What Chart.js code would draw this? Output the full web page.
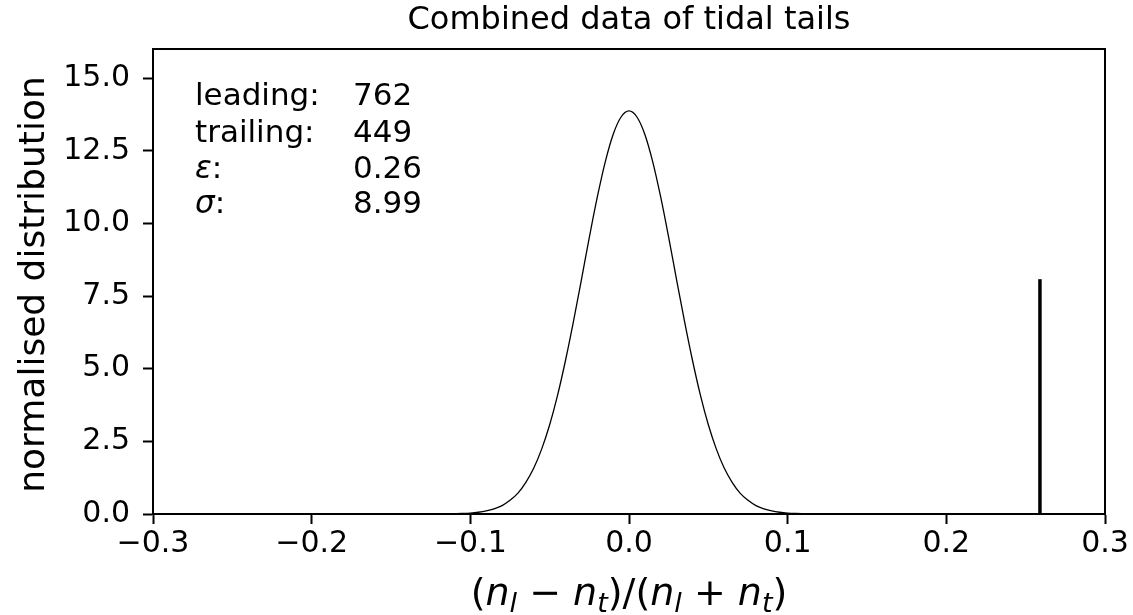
<!DOCTYPE html>
<html>
<head>
<meta charset="utf-8">
<script src="https://cdn.jsdelivr.net/npm/chart.js@4"></script>
<style>
html,body{margin:0;padding:0;background:#fff;}
canvas{display:block;}
</style>
</head>
<body>
<canvas id="c" width="1133" height="615"></canvas>
<script>
// ---- data ----
const curveX = [-0.3, -0.12, -0.115, -0.11, -0.105, -0.1, -0.095, -0.09, -0.085, -0.08, -0.075, -0.07, -0.065, -0.06, -0.055, -0.05, -0.045, -0.04, -0.035, -0.03, -0.025, -0.02, -0.015, -0.01, -0.005,
  0, 0.005, 0.01, 0.015, 0.02, 0.025, 0.03, 0.035, 0.04, 0.045, 0.05, 0.055, 0.06, 0.065, 0.07, 0.075, 0.08, 0.085, 0.09, 0.095, 0.1, 0.105, 0.11, 0.115, 0.12, 0.3];
const curveY = [0, 0.002, 0.004, 0.01, 0.018, 0.033, 0.06, 0.105, 0.178, 0.29, 0.47, 0.72, 1.09, 1.58, 2.24, 3.07, 4.09, 5.29, 6.63, 8.06, 9.52, 10.90, 12.11, 13.06, 13.66,
  13.87, 13.66, 13.06, 12.11, 10.90, 9.52, 8.06, 6.63, 5.29, 4.09, 3.07, 2.24, 1.58, 1.09, 0.72, 0.47, 0.29, 0.178, 0.105, 0.06, 0.033, 0.018, 0.01, 0.004, 0.002, 0];
const epsilonX = 0.259;
const epsilonHeight = 8.08;
const xTicks = [-0.3, -0.2, -0.1, 0.0, 0.1, 0.2, 0.3];
const yTicks = [0, 2.5, 5, 7.5, 10, 12.5, 15];
const annLabels = ['leading:', 'trailing:', 'ε:', 'σ:'];
const annValues = ['762', '449', '0.26', '8.99'];
const titleText = 'Combined data of tidal tails';
const yLabel = 'normalised distribution';

const FONT = '"DejaVu Sans"';
const fmt = v => { const s = Number(v).toFixed(1); return s.replace('-', '\u2212'); };

const overlay = {
  id: 'overlay',
  afterDraw(chart) {
    const ctx = chart.ctx, a = chart.chartArea;
    ctx.save();
    // spines
    ctx.strokeStyle = '#000';
    ctx.lineWidth = 2;
    ctx.strokeRect(a.left, a.top, a.right - a.left, a.bottom - a.top);
    ctx.fillStyle = '#000';
    // title
    ctx.font = '32px ' + FONT;
    ctx.textAlign = 'center';
    ctx.textBaseline = 'alphabetic';
    ctx.fillText(titleText, (a.left + a.right) / 2, 29);
    // annotation
    ctx.textAlign = 'left';
    const ys = [105, 141.5, 178, 213];
    annLabels.forEach((t, i) => {
      const isMath = (t[0] === 'ε' || t[0] === 'σ');
      if (isMath) {
        ctx.font = 'italic 31px ' + FONT;
        ctx.fillText(t[0], 195, ys[i]);
        const w = ctx.measureText(t[0]).width;
        ctx.font = '31px ' + FONT;
        ctx.fillText(t.slice(1), 195 + w, ys[i]);
      } else {
        ctx.font = '31px ' + FONT;
        ctx.fillText(t, 195, ys[i]);
      }
      ctx.font = '31px ' + FONT;
      ctx.fillText(annValues[i], 353, ys[i]);
    });
    // y axis label
    ctx.save();
    ctx.translate(44, (a.top + a.bottom) / 2 + 3);
    ctx.rotate(-Math.PI / 2);
    ctx.font = '36px ' + FONT;
    ctx.textAlign = 'center';
    ctx.fillText(yLabel, 0, 0);
    ctx.restore();
    // x axis label (math)
    const parts = [
      ['(', 'n'], ['n', 'i'], ['l', 's'], [' \u2212 ', 'n'], ['n', 'i'], ['t', 's'],
      [')/(', 'n'], ['n', 'i'], ['l', 's'], [' + ', 'n'], ['n', 'i'], ['t', 's'], [')', 'n']
    ];
    const big = 38, small = 27;
    const fontFor = k => k === 'n' ? big + 'px ' + FONT : (k === 'i' ? 'italic ' + big + 'px ' + FONT : 'italic ' + small + 'px ' + FONT);
    let total = 0;
    parts.forEach(p => { ctx.font = fontFor(p[1]); total += ctx.measureText(p[0]).width; });
    let x = (a.left + a.right) / 2 - total / 2;
    const base = 605;
    ctx.textAlign = 'left';
    parts.forEach(p => {
      ctx.font = fontFor(p[1]);
      ctx.fillText(p[0], x, p[1] === 's' ? base + 7 : base);
      x += ctx.measureText(p[0]).width;
    });
    ctx.restore();
  }
};

new Chart(document.getElementById('c'), {
  type: 'line',
  data: {
    datasets: [
      {
        data: curveX.map((x, i) => ({ x: x, y: curveY[i] })),
        borderColor: '#000', borderWidth: 1.3, pointRadius: 0,
        cubicInterpolationMode: 'monotone', fill: false
      },
      {
        data: [{ x: epsilonX, y: 0 }, { x: epsilonX, y: epsilonHeight }],
        borderColor: '#000', borderWidth: 3.5, pointRadius: 0, borderCapStyle: 'butt'
      }
    ]
  },
  options: {
    responsive: false, animation: false, devicePixelRatio: 1,
    layout: { padding: { top: 49, right: 28, left: 0, bottom: 0 } },
    plugins: { legend: { display: false }, title: { display: false }, tooltip: { enabled: false } },
    scales: {
      x: {
        type: 'linear', min: -0.3, max: 0.3,
        afterBuildTicks: s => { s.ticks = xTicks.map(v => ({ value: v })); },
        afterFit: s => { s.height = 101; },
        grid: { drawOnChartArea: false, drawTicks: true, tickLength: 10, tickWidth: 2, tickColor: '#000' },
        border: { display: true, color: '#000', width: 2 },
        ticks: { color: '#000', font: { family: 'DejaVu Sans', size: 30 }, padding: 2, maxRotation: 0, callback: v => fmt(v) }
      },
      y: {
        min: 0, max: 16.0,
        afterBuildTicks: s => { s.ticks = yTicks.map(v => ({ value: v })); },
        afterFit: s => { s.width = 153; },
        grid: { drawOnChartArea: false, drawTicks: true, tickLength: 10, tickWidth: 2, tickColor: '#000' },
        border: { display: true, color: '#000', width: 2 },
        ticks: { color: '#000', font: { family: 'DejaVu Sans', size: 30 }, padding: 13, callback: v => fmt(v) }
      }
    }
  },
  plugins: [overlay]
});
</script>
</body>
</html>
